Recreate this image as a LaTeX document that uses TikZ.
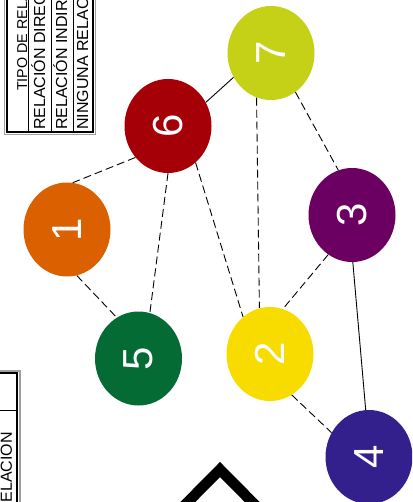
\documentclass[tikz,border=0pt]{standalone}
\usepackage{fontspec}
\setmainfont{Liberation Sans}
\usepackage{graphicx}
\usetikzlibrary{shapes.geometric}
\definecolor{cseven}{RGB}{197,209,23}
\definecolor{csix}{RGB}{165,0,8}
\definecolor{cthree}{RGB}{107,0,98}
\definecolor{cone}{RGB}{219,97,0}
\definecolor{cfive}{RGB}{3,107,51}
\definecolor{ctwo}{RGB}{248,220,0}
\definecolor{cfour}{RGB}{51,32,140}
\definecolor{shadowgray}{RGB}{160,160,160}
\tikzset{
  bubble/.style={ellipse, minimum width=87pt, minimum height=94pt, inner sep=0pt, text=white, font=\fontsize{42}{42}\selectfont},
  rel/.style={line width=0.9pt, dash pattern=on 8pt off 4pt},
  direct/.style={line width=0.9pt},
  tabtext/.style={rotate=90, inner sep=0pt, font=\fontsize{16}{16}\selectfont},
  headtext/.style={rotate=90, inner sep=0pt, font=\fontsize{14.3}{14.3}\selectfont},
  frameline/.style={line width=1.3pt},
  shadowline/.style={line width=1.3pt, draw=shadowgray},
}
\begin{document}
\begin{tikzpicture}[x=1pt,y=-1pt]
\useasboundingbox (0,0) rectangle (412,502);
\clip (0,0) rectangle (412,502);
% top table
\draw[shadowline] (4.5,-10) -- (4.5,134.5) -- (95.5,134.5) -- (95.5,-10);
\draw[frameline] (7,-10) -- (7,132) -- (93,132) -- (93,-10);
\draw[line width=1pt] (28,-10) -- (28,132);
\draw[line width=1pt] (51,-10) -- (51,132);
\draw[line width=1pt] (73,-10) -- (73,132);
\node[headtext, anchor=base west] (h1) at (27,91) {TIPO DE RELACIÓN};
\node[tabtext, anchor=base west] (h2) at (45,130) {RELACIÓN DIRECTA};
\node[tabtext, anchor=base west] (h3) at (67,130) {RELACIÓN INDIRECTA};
\node[tabtext, anchor=base west] (h4) at (88,130) {NINGUNA RELACIÓN};
% bottom table
\draw[shadowline] (-10,371) -- (20,371) -- (20,512);
\draw[frameline] (-10,373) -- (17,373) -- (17,512);
\draw[line width=1pt] (-10,410) -- (17,410);
\node[tabtext, anchor=base east] (b1) at (12,432) {RELACIÓN};
% chevron
\coordinate (cl) at (170,520);
\coordinate (ca) at (220,469.5);
\coordinate (cr) at (270,520);
\draw[line width=10.6pt, miter limit=10] (cl) -- (ca) -- (cr);
% nodes
\node[bubble, fill=cseven] (n7) at (271,53) {\rotatebox{90}{7}};
\node[bubble, fill=csix] (n6) at (168,126) {\rotatebox{90}{6}};
\node[bubble, fill=cthree] (n3) at (352,215) {\rotatebox{90}{3}};
\node[bubble, fill=cone] (n1) at (67,229.5) {\rotatebox{90}{1}};
\node[bubble, fill=cfive] (n5) at (138.5,358.5) {\rotatebox{90}{5}};
\node[bubble, fill=ctwo] (n2) at (270,354) {\rotatebox{90}{2}};
\node[bubble, fill=cfour] (n4) at (369,457) {\rotatebox{90}{4}};
% edges
\draw[direct] (n7.213) -- (n6.32);
\draw[rel] (n7.252) -- (n2.103);
\draw[rel] (n7.302) -- (n3.107);
\draw[rel] (n6.224) -- (n1.83);
\draw[rel] (n6.270) -- (n5.76);
\draw[rel] (n6.307) -- (n2.126);
\draw[rel] (n1.282) -- (n5.118);
\draw[rel] (n3.239) -- (n2.74);
\draw[direct] (n3.271) -- (n4.94);
\draw[rel] (n2.298) -- (n4.147);
\end{tikzpicture}
\end{document}
